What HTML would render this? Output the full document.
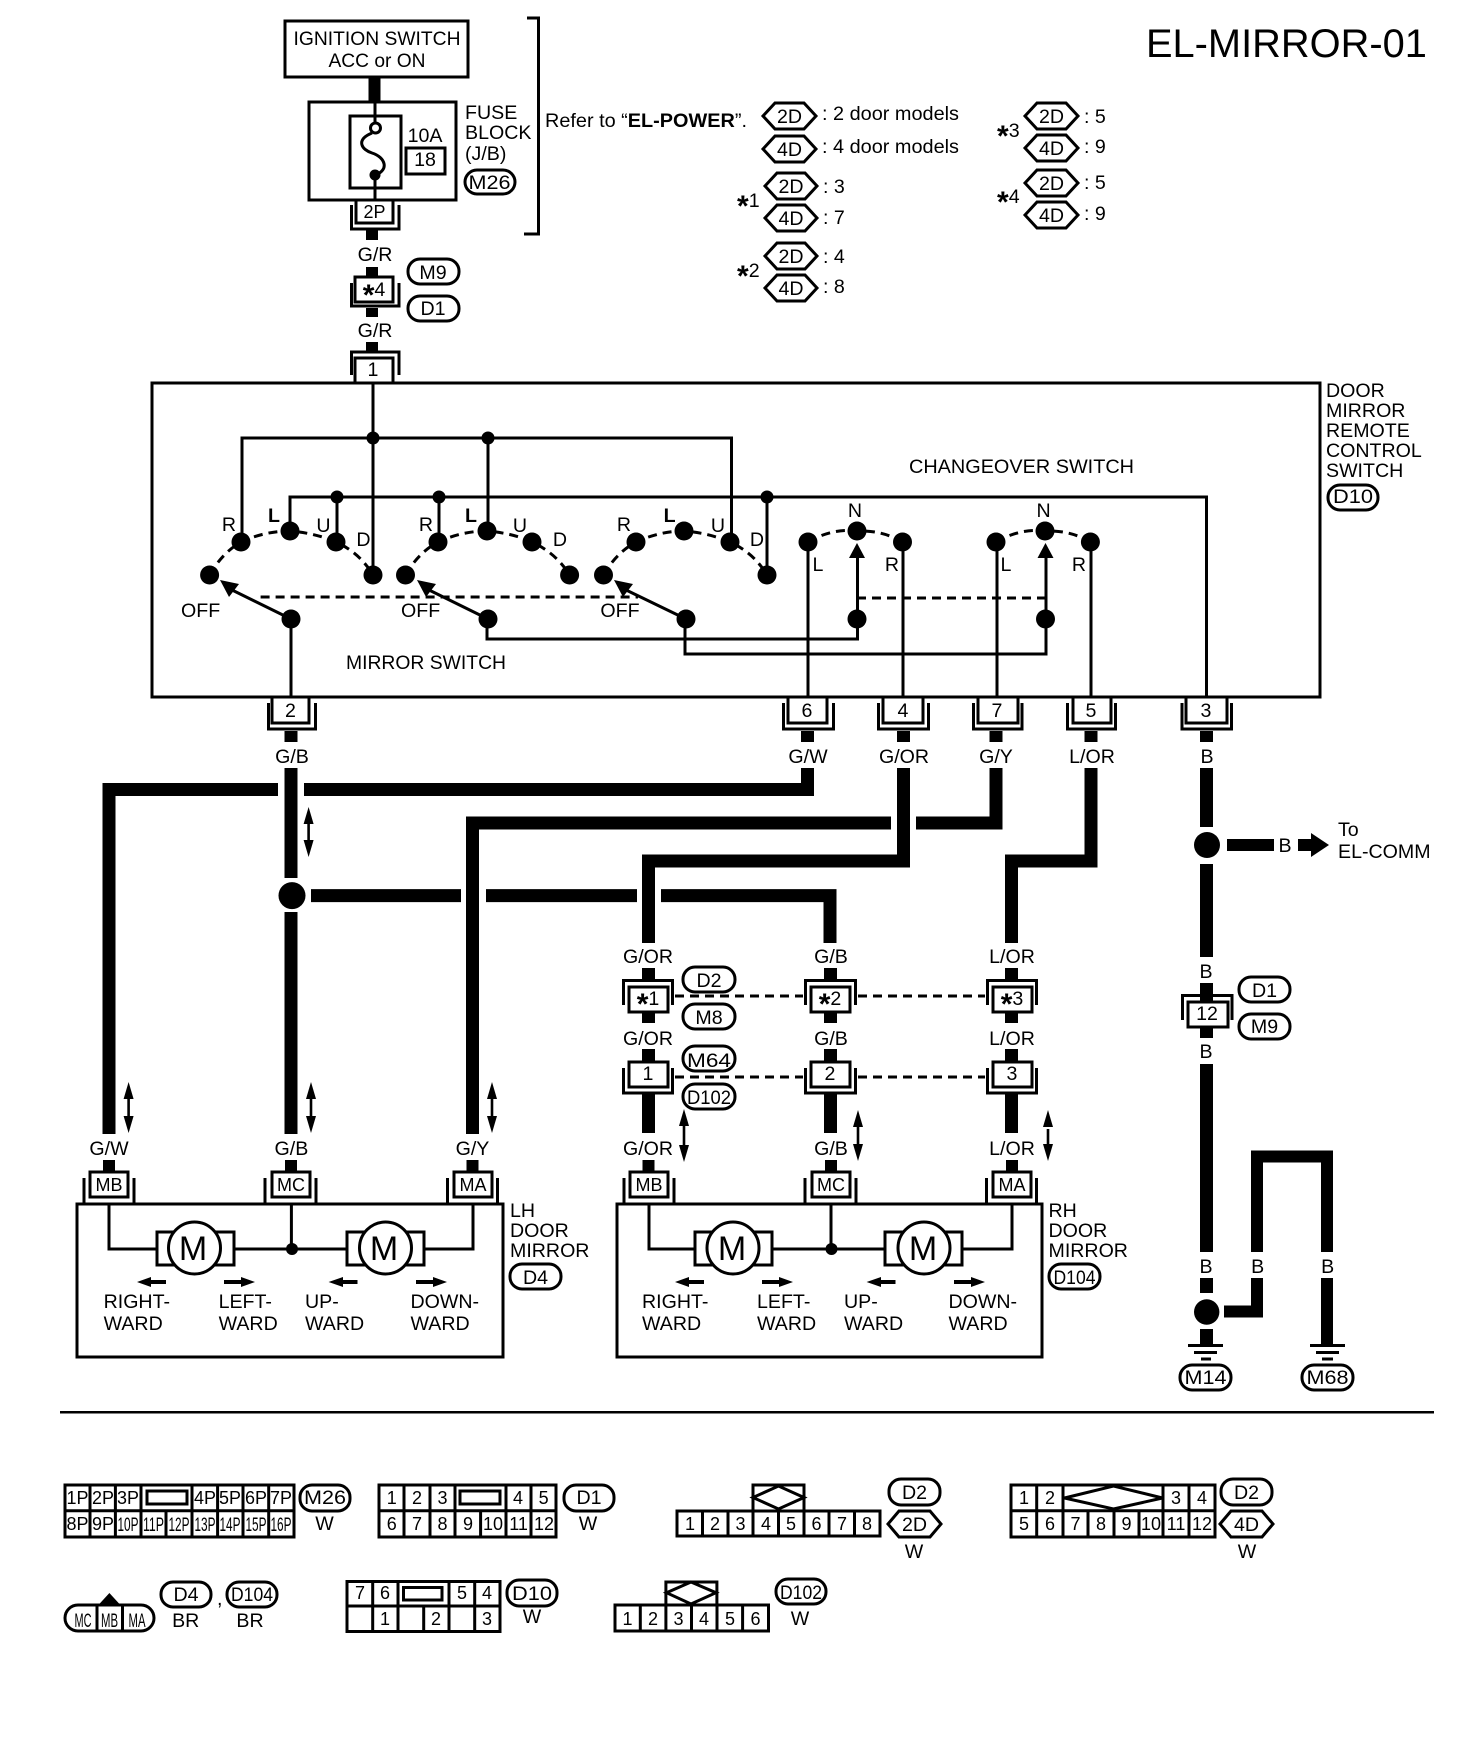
<!DOCTYPE html>
<html><head><meta charset="utf-8"><style>
html,body{margin:0;padding:0;background:#fff}
svg{display:block}
text{font-family:"Liberation Sans",sans-serif;font-size:19.6px;fill:#000}
.m{text-anchor:middle}
.s{font-size:18px}
.b{font-weight:bold}
.k{fill:none;stroke:#000;stroke-width:3}
.w{fill:#fff;stroke:#000;stroke-width:3}
.t{fill:none;stroke:#000;stroke-width:13}
.l{fill:none;stroke:#000;stroke-width:3}
.d{fill:none;stroke:#000;stroke-width:3;stroke-dasharray:9 6}
.p{fill:#fff;stroke:#000;stroke-width:3}
.a{font-size:30px;font-weight:bold}
</style></head><body>
<svg width="1472" height="1752" viewBox="0 0 1472 1752" xmlns="http://www.w3.org/2000/svg">
<rect width="1472" height="1752" fill="#fff"/>
<text x="1146" y="57" style="font-size:39.8px">EL-MIRROR-01</text>

<!-- ignition and fuse -->
<rect class="k" x="285" y="21" width="183" height="56"/>
<text class="m" x="377" y="45" textLength="167" lengthAdjust="spacingAndGlyphs">IGNITION SWITCH</text>
<text class="m" x="377" y="67" textLength="97" lengthAdjust="spacingAndGlyphs">ACC or ON</text>
<path class="t" d="M374.500 78V102" style="stroke-width:12"/>
<rect class="k" x="309" y="102" width="147" height="98"/>
<rect class="k" x="350" y="116" width="51" height="72"/>
<path class="l" d="M375 102V123M375 175V200"/>
<circle class="k" cx="375.500" cy="128" r="5"/>
<circle cx="375" cy="175" r="5.500"/>
<path class="l" d="M372 133C355 140 362 150 372 153C385 157 390 170 375 175"/>
<text class="m" x="425" y="142">10A</text>
<rect class="k" x="406" y="148" width="39" height="26"/>
<text class="m" x="425" y="166">18</text>
<text x="465" y="119">FUSE</text><text x="465" y="139">BLOCK</text><text x="465" y="160">(J/B)</text>
<rect class="p" x="465" y="170" width="50" height="24" rx="12"/><text class="m" x="489.500" y="189" textLength="42" lengthAdjust="spacingAndGlyphs">M26</text>
<path class="k" d="M351.500 205V229H399V205"/>
<rect class="k" x="356" y="200" width="37" height="23"/>
<text class="m s" x="374.500" y="218">2P</text>
<path class="t" d="M372 230V240M372 267V276M372 308V317M372 342V351" style="stroke-width:12"/>
<text class="m" x="375" y="261">G/R</text>
<path class="k" d="M351.500 283V306H399V283"/>
<rect class="k" x="355" y="277" width="38" height="25"/>
<text class="m" x="374" y="296"><tspan class="a" dy="9">*</tspan><tspan dy="-9">4</tspan></text>
<rect class="p" x="408" y="259" width="51" height="25" rx="12"/><text class="m" x="433" y="279">M9</text>
<rect class="p" x="408" y="296" width="51" height="25" rx="12"/><text class="m" x="433" y="315">D1</text>
<text class="m" x="375" y="337">G/R</text>
<path class="k" d="M351.500 375V352H399V375"/>
<rect class="k" x="355" y="358" width="38" height="25"/>
<text class="m" x="373" y="376">1</text>

<path class="k" d="M527 18H538.500V234H524"/>
<text x="545" y="127" textLength="202" lengthAdjust="spacingAndGlyphs">Refer to “<tspan class="b">EL-POWER</tspan>”.</text>

<!-- hex legend -->
<polygon class="p" points="763,116 775,103 804,103 816,116 804,129 775,129"/><text class="m" x="789.500" y="123">2D</text>
<text x="822" y="120" textLength="137" lengthAdjust="spacingAndGlyphs">: 2 door models</text>
<polygon class="p" points="763,149 775,136 804,136 816,149 804,162 775,162"/><text class="m" x="789.500" y="156">4D</text>
<text x="822" y="153" textLength="137" lengthAdjust="spacingAndGlyphs">: 4 door models</text>
<text x="737" y="207"><tspan class="a" dy="9">*</tspan><tspan dy="-9">1</tspan></text>
<polygon class="p" points="765,186 777,173 805,173 817,186 805,199 777,199"/><text class="m" x="791" y="193">2D</text>
<text x="823" y="193">: 3</text>
<polygon class="p" points="765,218 777,205 805,205 817,218 805,231 777,231"/><text class="m" x="791" y="225">4D</text>
<text x="823" y="224">: 7</text>
<text x="737" y="277"><tspan class="a" dy="9">*</tspan><tspan dy="-9">2</tspan></text>
<polygon class="p" points="765,256 777,243 805,243 817,256 805,269 777,269"/><text class="m" x="791" y="263">2D</text>
<text x="823" y="263">: 4</text>
<polygon class="p" points="765,288 777,275 805,275 817,288 805,301 777,301"/><text class="m" x="791" y="295">4D</text>
<text x="823" y="293">: 8</text>
<text x="997" y="137"><tspan class="a" dy="9">*</tspan><tspan dy="-9">3</tspan></text>
<polygon class="p" points="1025,116 1037,103 1066,103 1078,116 1066,129 1037,129"/><text class="m" x="1051.500" y="123">2D</text>
<text x="1084" y="123">: 5</text>
<polygon class="p" points="1025,148 1037,135 1066,135 1078,148 1066,161 1037,161"/><text class="m" x="1051.500" y="155">4D</text>
<text x="1084" y="153">: 9</text>
<text x="997" y="203"><tspan class="a" dy="9">*</tspan><tspan dy="-9">4</tspan></text>
<polygon class="p" points="1025,183 1037,170 1066,170 1078,183 1066,196 1037,196"/><text class="m" x="1051.500" y="190">2D</text>
<text x="1084" y="189">: 5</text>
<polygon class="p" points="1025,215 1037,202 1066,202 1078,215 1066,228 1037,228"/><text class="m" x="1051.500" y="222">4D</text>
<text x="1084" y="220">: 9</text>

<!-- main switch box -->
<rect class="k" x="152" y="383" width="1168" height="314"/>
<path class="l" d="M373 383V575M242 542V438H731.500V542M488 438V531M290 531V497H1206.500V697M337 497V542M439 497V542M767 497V575"/>
<g fill="#000">
<circle cx="373" cy="438" r="6.500"/><circle cx="488" cy="438" r="6.500"/>
<circle cx="337" cy="497" r="6.500"/><circle cx="439" cy="497" r="6.500"/><circle cx="767" cy="497" r="6.500"/>
<circle cx="209.600" cy="575" r="9.500"/><circle cx="241" cy="542" r="9.500"/><circle cx="290" cy="531" r="9.500"/><circle cx="336" cy="542" r="9.500"/><circle cx="373" cy="575" r="9.500"/>
<circle cx="405.500" cy="575" r="9.500"/><circle cx="438" cy="542" r="9.500"/><circle cx="487" cy="531" r="9.500"/><circle cx="532" cy="542" r="9.500"/><circle cx="569.600" cy="575" r="9.500"/>
<circle cx="603.500" cy="575" r="9.500"/><circle cx="636" cy="542" r="9.500"/><circle cx="684" cy="531" r="9.500"/><circle cx="730" cy="542" r="9.500"/><circle cx="767" cy="575" r="9.500"/>
<circle cx="291" cy="619" r="9.500"/><circle cx="488" cy="619" r="9.500"/><circle cx="686" cy="619" r="9.500"/>
<circle cx="808" cy="542" r="9.500"/><circle cx="857" cy="531" r="9.500"/><circle cx="902.500" cy="542" r="9.500"/><circle cx="857" cy="619" r="9.500"/>
<circle cx="996" cy="542" r="9.500"/><circle cx="1045" cy="531" r="9.500"/><circle cx="1090.400" cy="542" r="9.500"/><circle cx="1045.500" cy="619" r="9.500"/>
<polygon points="220,580 239,584 229,597"/><polygon points="417,580 436,584 426,597"/><polygon points="614,580 633,584 623,597"/>
<polygon points="857,543 865,558 849,558"/><polygon points="1045.500,543 1053.500,558 1037.500,558"/>
</g>
<path class="d" d="M209.600 575Q222 553 241 542Q265 531 290 531Q315 533 336 542Q360 553 373 575"/>
<path class="d" d="M405.500 575Q418 553 438 542Q462 531 487 531Q512 533 532 542Q556 553 569.600 575"/>
<path class="d" d="M603.500 575Q616 553 636 542Q660 531 684 531Q709 533 730 542Q754 553 767 575"/>
<path class="d" d="M808 542Q832 528 857 531Q882 530 902.500 542"/>
<path class="d" d="M996 542Q1020 528 1045 531Q1070 530 1090.400 542"/>
<path class="l" d="M291 619L228 588M488 619L425 588M686 619L622 588"/>
<path class="l" d="M291 619V697M487 619V639H857.500V555M685 619V654H1046V555M808 542V697M903 542V697M997 542V697M1091 542V697"/>
<path class="d" d="M260.600 597H638M857 598H1045"/>
<text class="m" x="229" y="531">R</text><text class="m b" x="274" y="522">L</text><text class="m" x="323.500" y="532">U</text><text class="m" x="363.500" y="546">D</text>
<text class="m" x="426" y="531">R</text><text class="m b" x="471" y="522">L</text><text class="m" x="520" y="532">U</text><text class="m" x="560" y="546">D</text>
<text class="m" x="624" y="531">R</text><text class="m b" x="669.600" y="522">L</text><text class="m" x="718" y="532">U</text><text class="m" x="757" y="546">D</text>
<text class="m" x="200.600" y="617">OFF</text><text class="m" x="420.600" y="617">OFF</text><text class="m" x="620" y="617">OFF</text>
<text x="346" y="669" textLength="160" lengthAdjust="spacingAndGlyphs">MIRROR SWITCH</text>
<text x="909" y="473" textLength="225" lengthAdjust="spacingAndGlyphs">CHANGEOVER SWITCH</text>
<text class="m" x="855" y="517">N</text><text class="m" x="1043.600" y="517">N</text>
<text class="m" x="818" y="571">L</text><text class="m" x="892" y="571">R</text><text class="m" x="1006" y="571">L</text><text class="m" x="1079" y="571">R</text>
<text x="1326" y="397">DOOR</text><text x="1326" y="417">MIRROR</text><text x="1326" y="437">REMOTE</text><text x="1326" y="457">CONTROL</text><text x="1326" y="477">SWITCH</text>
<rect class="p" x="1328" y="485" width="50" height="25" rx="12"/><text class="m" x="1353" y="503" textLength="40" lengthAdjust="spacingAndGlyphs">D10</text>

<!-- bottom connectors of switch -->
<path class="k" d="M268.500 703V729H315.500V703"/><rect class="k" x="272" y="697" width="37" height="26"/><text class="m" x="290.500" y="717">2</text>
<path class="k" d="M783.500 703V729H833.500V703"/><rect class="k" x="788" y="697" width="39" height="26"/><text class="m" x="807" y="717">6</text>
<path class="k" d="M878.500 703V729H928.500V703"/><rect class="k" x="883" y="697" width="40" height="26"/><text class="m" x="903" y="717">4</text>
<path class="k" d="M973.500 703V729H1022V703"/><rect class="k" x="978" y="697" width="40" height="26"/><text class="m" x="997" y="717">7</text>
<path class="k" d="M1067.500 703V729H1115.500V703"/><rect class="k" x="1073" y="697" width="38" height="26"/><text class="m" x="1091" y="717">5</text>
<path class="k" d="M1182 703V729H1231.500V703"/><rect class="k" x="1186" y="697" width="41" height="26"/><text class="m" x="1206" y="717">3</text>
<path class="t" d="M291 731V742M807.500 731V742M903.500 731V742M996 731V742M1091 731V742M1206.500 731V742"/>
<text class="m" x="292" y="763">G/B</text><text class="m" x="808" y="763">G/W</text><text class="m" x="904" y="763">G/OR</text><text class="m" x="996" y="763">G/Y</text><text class="m" x="1092" y="763">L/OR</text><text class="m" x="1207" y="763">B</text>

<!-- thick wires -->
<path class="t" d="M807.500 768V789.500H304M278 789.500H109V1134"/>
<path class="t" d="M291 768V878M291 912V1134"/>
<circle cx="292" cy="895.600" r="13.500"/>
<path class="t" d="M311 895.600H461M486 895.600H637M661 895.600H830V943"/>
<path class="t" d="M996 768V823H916M891 823H472.500V1134"/>
<path class="t" d="M903.500 768V861H648.500V943"/>
<path class="t" d="M1091 768V861H1011.500V943"/>
<path class="t" d="M1206.500 768V827M1206.500 864V957M1206.500 983V1001M1206.500 1028V1038M1206.500 1064V1252M1206.500 1278V1293M1206.500 1329V1345"/>
<circle cx="1207" cy="845" r="13"/>
<rect x="1227" y="839" width="47" height="12"/>
<text class="m" x="1285" y="852">B</text>
<polygon points="1298,839 1311,839 1311,833 1329,845 1311,857 1311,851 1298,851"/>
<text x="1338" y="836">To</text><text x="1338" y="858">EL-COMM</text>

<!-- double arrows -->
<g fill="#000" stroke="none">
<polygon points="308.600,807 313.600,824 303.600,824"/><polygon points="308.600,857 313.600,840 303.600,840"/><rect x="307.300" y="820" width="2.600" height="25"/>
<polygon points="128.600,1082 133.600,1099 123.600,1099"/><polygon points="128.600,1133 133.600,1116 123.600,1116"/><rect x="127.300" y="1095" width="2.600" height="25"/>
<polygon points="311,1082 316,1099 306,1099"/><polygon points="311,1133 316,1116 306,1116"/><rect x="309.700" y="1095" width="2.600" height="25"/>
<polygon points="492,1082 497,1099 487,1099"/><polygon points="492,1133 497,1116 487,1116"/><rect x="490.700" y="1095" width="2.600" height="25"/>
<polygon points="684,1109 689,1126 679,1126"/><polygon points="684,1162 689,1145 679,1145"/><rect x="682.700" y="1122" width="2.600" height="27"/>
<polygon points="858,1110 863,1127 853,1127"/><polygon points="858,1161 863,1144 853,1144"/><rect x="856.700" y="1123" width="2.600" height="26"/>
<polygon points="1048,1110 1053,1127 1043,1127"/><polygon points="1048,1161 1053,1144 1043,1144"/><rect x="1046.700" y="1129" width="2.600" height="20"/>
</g>

<!-- RH harness connectors -->
<path class="t" d="M648.500 968V979M830.500 968V979M1011.500 968V979M648.500 1012V1023M830.500 1012V1023M1011.500 1012V1023M648.500 1049V1061M830.500 1049V1061M1011.500 1049V1061M648.500 1094V1133M830.500 1094V1133M1011.500 1094V1133"/>
<text class="m" x="648" y="963">G/OR</text><text class="m" x="831" y="963">G/B</text><text class="m" x="1012" y="963">L/OR</text>
<text class="m" x="648" y="1045">G/OR</text><text class="m" x="831" y="1045">G/B</text><text class="m" x="1012" y="1045">L/OR</text>
<text class="m" x="648" y="1155">G/OR</text><text class="m" x="831" y="1155">G/B</text><text class="m" x="1012" y="1155">L/OR</text>
<path class="k" d="M623.500 1005V980.500H672.500V1005M805.500 1005V980.500H855.500V1005M987.500 1005V980.500H1036.500V1005"/>
<rect class="k" x="629" y="987" width="39" height="25"/><text class="m" x="648" y="1005"><tspan class="a" dy="9">*</tspan><tspan dy="-9">1</tspan></text>
<rect class="k" x="811" y="987" width="39" height="25"/><text class="m" x="830" y="1005"><tspan class="a" dy="9">*</tspan><tspan dy="-9">2</tspan></text>
<rect class="k" x="993" y="987" width="39" height="25"/><text class="m" x="1012" y="1005"><tspan class="a" dy="9">*</tspan><tspan dy="-9">3</tspan></text>
<path class="k" d="M623.500 1068V1093H672.500V1068M805.500 1068V1093H855.500V1068M987.500 1068V1093H1036.500V1068"/>
<rect class="k" x="629" y="1062" width="39" height="25"/><text class="m" x="648" y="1080">1</text>
<rect class="k" x="811" y="1062" width="39" height="25"/><text class="m" x="830" y="1080">2</text>
<rect class="k" x="993" y="1062" width="39" height="25"/><text class="m" x="1012" y="1080">3</text>
<path class="d" d="M675 996H803M858 996H985M675 1077H803M858 1077H985"/>
<rect class="p" x="683" y="967" width="52" height="25" rx="12"/><text class="m" x="709" y="987">D2</text>
<rect class="p" x="683" y="1004" width="52" height="25" rx="12"/><text class="m" x="709" y="1024">M8</text>
<rect class="p" x="683" y="1046" width="52" height="25" rx="12"/><text class="m" x="709" y="1067" textLength="44" lengthAdjust="spacingAndGlyphs">M64</text>
<rect class="p" x="683" y="1084" width="52" height="25" rx="12"/><text class="m" x="709" y="1104" textLength="44" lengthAdjust="spacingAndGlyphs">D102</text>

<!-- LH mirror -->
<path class="t" d="M109 1160V1171M291 1160V1171M472.500 1160V1171" style="stroke-width:12"/>
<text class="m" x="109" y="1155">G/W</text><text class="m" x="291.400" y="1155">G/B</text><text class="m" x="472.500" y="1155">G/Y</text>
<rect class="k" x="77" y="1204" width="426" height="153"/>
<path class="k" d="M84 1178V1203M134 1178V1203M265 1178V1203M316 1178V1203M447.500 1178V1203M497.500 1178V1203"/>
<rect class="k" x="90" y="1172" width="38" height="25"/><text class="m s" x="109" y="1191">MB</text>
<rect class="k" x="272" y="1172" width="38" height="25"/><text class="m s" x="291" y="1191">MC</text>
<rect class="k" x="454" y="1172" width="38" height="25"/><text class="m s" x="473" y="1191">MA</text>
<path class="l" d="M109 1203V1249H157M234 1249H347M424 1249H473V1203M291.400 1203V1249"/>
<circle cx="292" cy="1249" r="6"/>
<rect class="k" x="157" y="1232" width="77" height="33"/><circle class="w" cx="194.500" cy="1248" r="26"/><text class="m" x="193" y="1260" style="font-size:34px">M</text>
<rect class="k" x="347" y="1232" width="77" height="33"/><circle class="w" cx="385.500" cy="1248" r="26"/><text class="m" x="384" y="1260" style="font-size:34px">M</text>
<path fill="#000" d="M137 1282L151 1277V1280H166V1284H151V1287ZM255 1282L241 1277V1280H224V1284H241V1287ZM328.600 1282L343 1277V1280H357.500V1284H343V1287ZM447 1282L433 1277V1280H416V1284H433V1287Z"/>
<text x="103.600" y="1308">RIGHT-</text><text x="103.600" y="1330">WARD</text>
<text x="218.600" y="1308">LEFT-</text><text x="218.600" y="1330">WARD</text>
<text x="305" y="1308">UP-</text><text x="305" y="1330">WARD</text>
<text x="410.500" y="1308">DOWN-</text><text x="410.500" y="1330">WARD</text>
<text x="510" y="1217">LH</text><text x="510" y="1237">DOOR</text><text x="510" y="1257">MIRROR</text>
<rect class="p" x="510" y="1264" width="51" height="25" rx="12"/><text class="m" x="535.500" y="1284">D4</text>

<!-- RH mirror -->
<g transform="translate(538,0)">
<path class="t" d="M110.500 1160V1171M293 1160V1171M474 1160V1171" style="stroke-width:12"/>
<rect class="k" x="79" y="1204" width="425" height="153"/>
<path class="k" d="M86 1178V1203M136 1178V1203M267 1178V1203M318 1178V1203M448.500 1178V1203M498.500 1178V1203"/>
<rect class="k" x="92" y="1172" width="38" height="25"/><text class="m s" x="111" y="1191">MB</text>
<rect class="k" x="274" y="1172" width="38" height="25"/><text class="m s" x="293" y="1191">MC</text>
<rect class="k" x="455" y="1172" width="38" height="25"/><text class="m s" x="474" y="1191">MA</text>
<path class="l" d="M111 1203V1249H157M234 1249H347M424 1249H474V1203M293 1203V1249"/>
<circle cx="293.500" cy="1249" r="6"/>
<rect class="k" x="157" y="1232" width="77" height="33"/><circle class="w" cx="195" cy="1248" r="26"/><text class="m" x="194" y="1260" style="font-size:34px">M</text>
<rect class="k" x="347" y="1232" width="77" height="33"/><circle class="w" cx="386" cy="1248" r="26"/><text class="m" x="385" y="1260" style="font-size:34px">M</text>
<path fill="#000" d="M137 1282L151 1277V1280H166V1284H151V1287ZM255 1282L241 1277V1280H224V1284H241V1287ZM328.600 1282L343 1277V1280H357.500V1284H343V1287ZM447 1282L433 1277V1280H416V1284H433V1287Z"/>
<text x="104" y="1308">RIGHT-</text><text x="104" y="1330">WARD</text>
<text x="219" y="1308">LEFT-</text><text x="219" y="1330">WARD</text>
<text x="306" y="1308">UP-</text><text x="306" y="1330">WARD</text>
<text x="410.500" y="1308">DOWN-</text><text x="410.500" y="1330">WARD</text>
<text x="510.500" y="1217">RH</text><text x="510.500" y="1237">DOOR</text><text x="510.500" y="1257">MIRROR</text>
<rect class="p" x="511" y="1264" width="51" height="25" rx="12"/><text class="m" x="536.500" y="1284" textLength="42" lengthAdjust="spacingAndGlyphs">D104</text>
</g>

<!-- right grounding branch -->
<text class="m" x="1206" y="978">B</text>
<path class="k" d="M1182.500 1020V995.500H1232V1020"/>
<rect class="k" x="1188" y="1002" width="40" height="25"/><text class="m" x="1207" y="1020">12</text>
<rect class="p" x="1239" y="977" width="51" height="25" rx="12"/><text class="m" x="1264.500" y="997">D1</text>
<rect class="p" x="1239" y="1014" width="51" height="25" rx="12"/><text class="m" x="1264.500" y="1033">M9</text>
<text class="m" x="1206" y="1058">B</text><text class="m" x="1206" y="1273">B</text><text class="m" x="1257.700" y="1273">B</text><text class="m" x="1327.700" y="1273">B</text>
<circle cx="1206.700" cy="1312" r="12.700"/>
<path class="t" d="M1224 1311.500H1257V1278M1257 1252V1156.500H1327V1252M1327 1278V1345" style="stroke-width:12"/>
<path class="k" d="M1188 1345.500H1223M1194 1352.500H1217M1310 1345.500H1345M1316 1352.500H1339"/>
<path d="M1201 1357.500H1211V1360.500H1201ZM1322 1357.500H1333V1360.500H1322Z"/>
<rect class="p" x="1180" y="1365" width="51" height="25" rx="12"/><text class="m" x="1205.500" y="1384" textLength="42" lengthAdjust="spacingAndGlyphs">M14</text>
<rect class="p" x="1302" y="1365" width="51" height="25" rx="12"/><text class="m" x="1327.500" y="1384" textLength="42" lengthAdjust="spacingAndGlyphs">M68</text>

<rect x="60" y="1411" width="1374" height="2.500"/>

<!-- M26 connector -->
<rect class="k" x="65" y="1485" width="229" height="52"/>
<path class="l" d="M65 1510.700H294M90 1485V1537M115.400 1485V1537M141 1485V1537M166 1510.700V1537M192 1485V1537M217.600 1485V1537M243 1485V1537M268.700 1485V1537"/>
<rect class="k" x="147" y="1491" width="40" height="13"/>
<text class="m s" x="77.500" y="1504" textLength="22" lengthAdjust="spacingAndGlyphs">1P</text><text class="m s" x="103" y="1504" textLength="22" lengthAdjust="spacingAndGlyphs">2P</text><text class="m s" x="128" y="1504" textLength="22" lengthAdjust="spacingAndGlyphs">3P</text>
<text class="m s" x="205" y="1504" textLength="22" lengthAdjust="spacingAndGlyphs">4P</text><text class="m s" x="230" y="1504" textLength="22" lengthAdjust="spacingAndGlyphs">5P</text><text class="m s" x="256" y="1504" textLength="22" lengthAdjust="spacingAndGlyphs">6P</text><text class="m s" x="281" y="1504" textLength="22" lengthAdjust="spacingAndGlyphs">7P</text>
<text class="m s" x="77.500" y="1530" textLength="22" lengthAdjust="spacingAndGlyphs">8P</text><text class="m s" x="103" y="1530" textLength="22" lengthAdjust="spacingAndGlyphs">9P</text>
<text class="m" x="128" y="1531" textLength="21" lengthAdjust="spacingAndGlyphs">10P</text><text class="m" x="153.500" y="1531" textLength="21" lengthAdjust="spacingAndGlyphs">11P</text><text class="m" x="179" y="1531" textLength="21" lengthAdjust="spacingAndGlyphs">12P</text><text class="m" x="205" y="1531" textLength="21" lengthAdjust="spacingAndGlyphs">13P</text><text class="m" x="230" y="1531" textLength="21" lengthAdjust="spacingAndGlyphs">14P</text><text class="m" x="256" y="1531" textLength="21" lengthAdjust="spacingAndGlyphs">15P</text><text class="m" x="281" y="1531" textLength="21" lengthAdjust="spacingAndGlyphs">16P</text>
<rect class="p" x="300" y="1485" width="50" height="26" rx="12"/><text class="m" x="325" y="1504" textLength="42" lengthAdjust="spacingAndGlyphs">M26</text>
<text class="m" x="324.500" y="1530">W</text>

<!-- D1 connector -->
<rect class="k" x="379" y="1485" width="177" height="52"/>
<path class="l" d="M379 1510.700H556M404 1485V1537M430 1485V1537M455 1485V1537M480.600 1510.700V1537M506 1485V1537M531 1485V1537"/>
<rect class="k" x="460" y="1491" width="40" height="13"/>
<text class="m s" x="391.700" y="1504">1</text><text class="m s" x="417" y="1504">2</text><text class="m s" x="442.500" y="1504">3</text><text class="m s" x="518" y="1504">4</text><text class="m s" x="543.600" y="1504">5</text>
<text class="m s" x="391.700" y="1530">6</text><text class="m s" x="417" y="1530">7</text><text class="m s" x="442.500" y="1530">8</text><text class="m s" x="468" y="1530">9</text><text class="m s" x="493" y="1530">10</text><text class="m s" x="518.600" y="1530">11</text><text class="m s" x="544" y="1530">12</text>
<rect class="p" x="564" y="1485" width="50" height="26" rx="12"/><text class="m" x="589" y="1504">D1</text>
<text class="m" x="588" y="1530">W</text>

<!-- D2 2D connector -->
<rect class="k" x="677" y="1511" width="203" height="25"/>
<path class="l" d="M702.500 1511V1536M728 1511V1536M753 1511V1536M778.500 1511V1536M804 1511V1536M829 1511V1536M854.500 1511V1536"/>
<rect class="k" x="753" y="1485" width="51" height="26"/>
<polygon class="l" points="753,1497.500 778.500,1486 804,1497.500 778.500,1509"/>
<text class="m s" x="690" y="1530">1</text><text class="m s" x="715" y="1530">2</text><text class="m s" x="740.500" y="1530">3</text><text class="m s" x="766" y="1530">4</text><text class="m s" x="791" y="1530">5</text><text class="m s" x="816.500" y="1530">6</text><text class="m s" x="842" y="1530">7</text><text class="m s" x="867" y="1530">8</text>
<rect class="p" x="889" y="1479" width="51" height="26" rx="12"/><text class="m" x="914.500" y="1499">D2</text>
<polygon class="p" points="888,1524 899,1511 930,1511 941,1524 930,1537 899,1537"/><text class="m" x="914.500" y="1531">2D</text>
<text class="m" x="914" y="1558">W</text>

<!-- D2 4D connector -->
<rect class="k" x="1011" y="1485" width="204" height="52"/>
<path class="l" d="M1011 1510.700H1215M1036.700 1485V1537M1063 1485V1537M1163 1485V1537M1189 1485V1537M1088 1510.700V1537M1114 1510.700V1537M1139 1510.700V1537"/>
<polygon class="l" points="1064.500,1498 1113.500,1486 1162.500,1498 1113.500,1509"/>
<text class="m s" x="1024" y="1504">1</text><text class="m s" x="1050" y="1504">2</text><text class="m s" x="1176" y="1504">3</text><text class="m s" x="1202" y="1504">4</text>
<text class="m s" x="1024" y="1530">5</text><text class="m s" x="1050" y="1530">6</text><text class="m s" x="1075.500" y="1530">7</text><text class="m s" x="1101" y="1530">8</text><text class="m s" x="1126.500" y="1530">9</text><text class="m s" x="1151" y="1530">10</text><text class="m s" x="1176" y="1530">11</text><text class="m s" x="1202" y="1530">12</text>
<rect class="p" x="1221" y="1479" width="51" height="26" rx="12"/><text class="m" x="1246.500" y="1499">D2</text>
<polygon class="p" points="1220,1524 1231,1511 1262,1511 1273,1524 1262,1537 1231,1537"/><text class="m" x="1246.500" y="1531">4D</text>
<text class="m" x="1247" y="1558">W</text>

<!-- D4 / D104 connector -->
<polygon points="109.400,1593 98.400,1605 120.400,1605"/>
<rect class="p" x="65" y="1605" width="89" height="26" rx="13"/>
<path class="l" d="M97 1605V1631M122.500 1605V1631"/>
<text class="m" x="83" y="1627" textLength="17" lengthAdjust="spacingAndGlyphs">MC</text><text class="m" x="109.500" y="1627" textLength="17" lengthAdjust="spacingAndGlyphs">MB</text><text class="m" x="137" y="1627" textLength="17" lengthAdjust="spacingAndGlyphs">MA</text>
<rect class="p" x="161" y="1582" width="50" height="25" rx="12"/><text class="m" x="186" y="1601">D4</text>
<text x="217" y="1605">,</text>
<rect class="p" x="227" y="1582" width="50" height="25" rx="12"/><text class="m" x="252" y="1601" textLength="42" lengthAdjust="spacingAndGlyphs">D104</text>
<text class="m" x="185.700" y="1627">BR</text><text class="m" x="250" y="1627">BR</text>

<!-- D10 connector -->
<rect class="k" x="347" y="1581.500" width="153" height="50"/>
<path class="l" d="M347 1606H500M372.700 1581.500V1631.500M398 1581.500V1631.500M449 1581.500V1631.500M474.700 1581.500V1631.500M423.700 1606V1631.500"/>
<rect class="k" x="403.500" y="1587.500" width="38.500" height="12.500"/>
<text class="m s" x="360" y="1599">7</text><text class="m s" x="385" y="1599">6</text><text class="m s" x="462" y="1599">5</text><text class="m s" x="487" y="1599">4</text>
<text class="m s" x="385" y="1625">1</text><text class="m s" x="436" y="1625">2</text><text class="m s" x="487" y="1625">3</text>
<rect class="p" x="507" y="1580" width="50" height="26" rx="12"/><text class="m" x="532" y="1600" textLength="40" lengthAdjust="spacingAndGlyphs">D10</text>
<text class="m" x="532" y="1623">W</text>

<!-- D102 connector -->
<rect class="k" x="615" y="1605" width="153.500" height="26"/>
<path class="l" d="M640.300 1605V1631M665.900 1605V1631M691.500 1605V1631M717 1605V1631M742.600 1605V1631"/>
<rect class="k" x="665.900" y="1582" width="51" height="23"/>
<polygon class="l" points="666.500,1592.700 691,1582 716,1592.700 691,1604"/>
<text class="m s" x="627.500" y="1625">1</text><text class="m s" x="653" y="1625">2</text><text class="m s" x="678.500" y="1625">3</text><text class="m s" x="704" y="1625">4</text><text class="m s" x="730" y="1625">5</text><text class="m s" x="755.500" y="1625">6</text>
<rect class="p" x="776" y="1579" width="50" height="25" rx="12"/><text class="m" x="801" y="1599" textLength="42" lengthAdjust="spacingAndGlyphs">D102</text>
<text class="m" x="800" y="1625">W</text>
</svg>
</body></html>
